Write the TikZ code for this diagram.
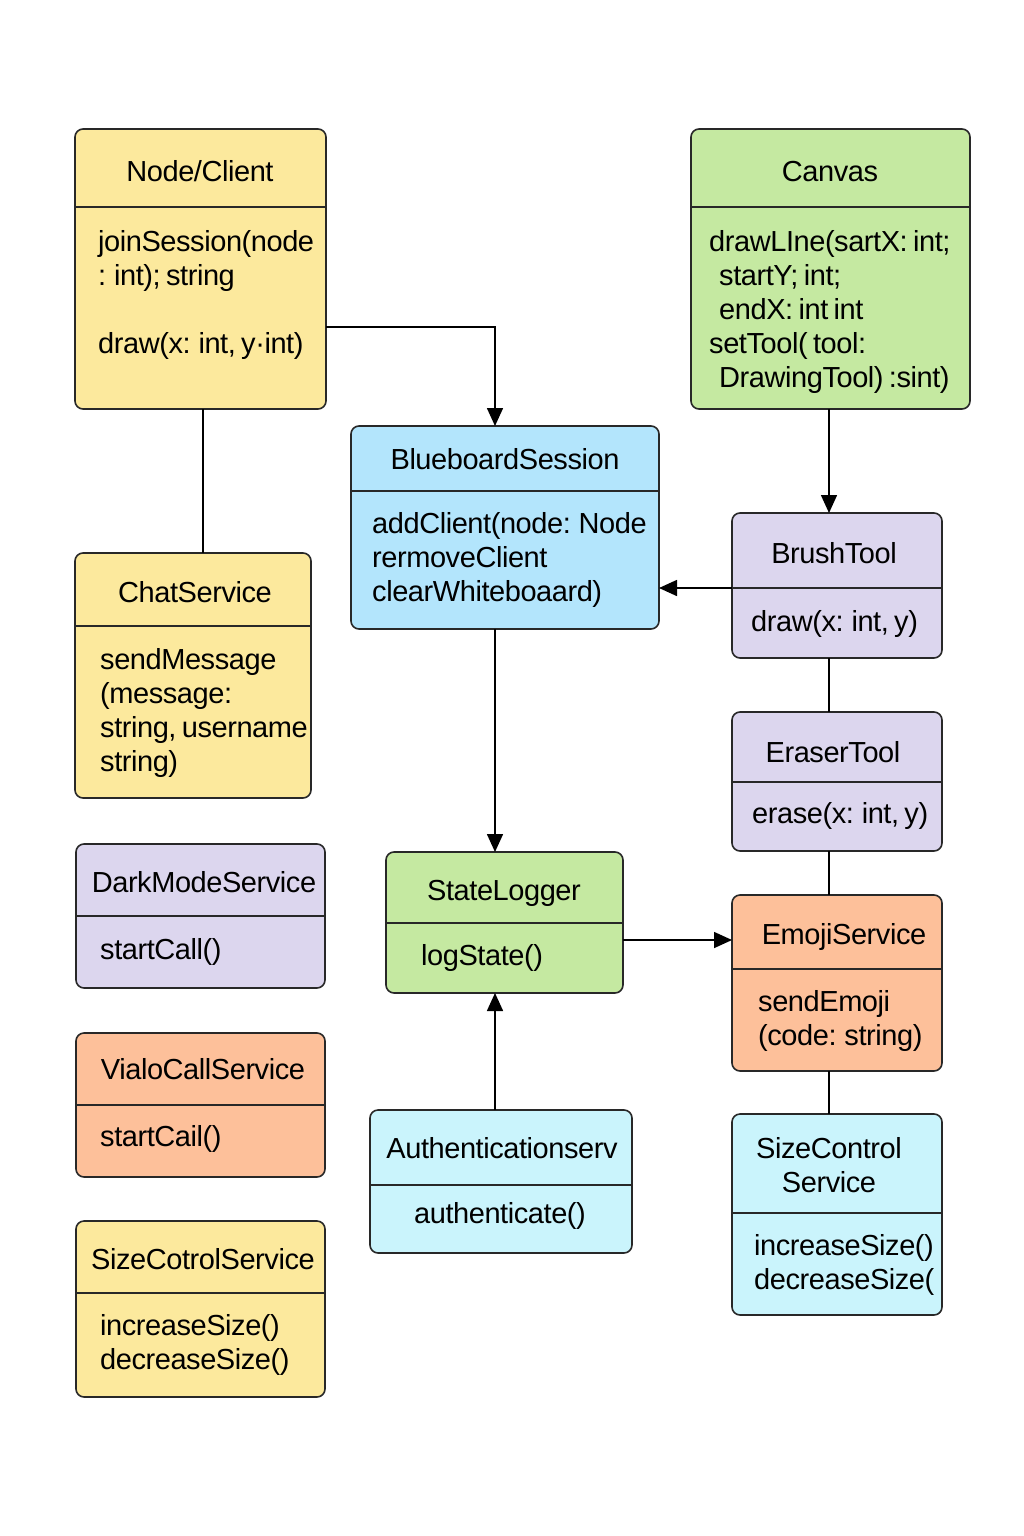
\documentclass[tikz,border=0pt]{standalone}
\usepackage{fontspec}
\setmainfont[WordSpace=0.7,LetterSpace=-1.5]{Liberation Sans}
\usetikzlibrary{arrows.meta,calc}
\definecolor{cyel}{RGB}{252,233,157}
\definecolor{cgrn}{RGB}{197,233,161}
\definecolor{cblu}{RGB}{179,229,252}
\definecolor{clav}{RGB}{220,214,238}
\definecolor{cora}{RGB}{253,192,154}
\definecolor{ccya}{RGB}{202,244,252}
\definecolor{cline}{RGB}{40,40,40}
\tikzset{
  ubox/.style={draw=cline, line width=1.6pt, rounded corners=8pt, inner sep=0pt, outer sep=0pt},
  divline/.style={draw=cline, line width=1.3pt},
  txt/.style={inner sep=0pt, font=\fontsize{29}{34}\selectfont, text=black},
  conn/.style={draw=black, line width=1.6pt},
  arr/.style={conn, -{Triangle[length=18pt,width=16pt]}},
}
\newcommand{\umlbox}[7]{%
  \node[ubox, fill=#2, minimum width={#5-#3}, minimum height={#6-#4}, anchor=north west] (#1) at (#3,#4) {};
  \draw[divline] (#3,#7) -- (#5,#7);
}
\newcommand{\tl}[4]{\node[txt, anchor=base west] (#1) at (#2,#3) {#4};}
\newcommand{\tc}[4]{\node[txt, anchor=base] (#1) at (#2,#3) {#4};}
\begin{document}
\begin{tikzpicture}[x=1pt,y=-1pt]
\fill[white] (0,0) rectangle (1024,1536);
\useasboundingbox (0,0) rectangle (1024,1536);

% Node/Client
\umlbox{nc}{cyel}{75}{129}{326}{409}{207}
\tc{nct}{200}{181}{Node/Client}
\tl{nc1}{98}{251}{joinSession(node}
\tl{nc2}{98}{285}{: int); string}
\tl{nc3}{98}{353}{draw(x: int, y·int)}

% Canvas
\umlbox{cv}{cgrn}{691}{129}{970}{409}{207}
\tc{cvt}{830}{181}{Canvas}
\tl{cv1}{709}{251}{drawLIne(sartX: int;}
\tl{cv2}{719}{285}{startY; int;}
\tl{cv3}{719}{319}{endX: int int}
\tl{cv4}{709}{353}{setTool( tool:}
\tl{cv5}{719}{387}{DrawingTool) :sint)}

% BlueboardSession
\umlbox{bs}{cblu}{351}{426}{659}{629}{491}
\tc{bst}{505}{469}{BlueboardSession}
\tl{bs1}{372}{533}{addClient(node: Node}
\tl{bs2}{372}{567}{rermoveClient}
\tl{bs3}{372}{601}{clearWhiteboaard)}

% BrushTool
\umlbox{bt}{clav}{732}{513}{942}{658}{588}
\tc{btt}{834}{563}{BrushTool}
\tl{bt1}{751}{631}{draw(x: int, y)}

% ChatService
\umlbox{cs}{cyel}{75}{553}{311}{798}{626}
\tc{cst}{195}{602}{ChatService}
\tl{cs1}{100}{669}{sendMessage}
\tl{cs2}{100}{703}{(message:}
\tl{cs3}{100}{737}{string, username}
\tl{cs4}{100}{771}{string)}

% EraserTool
\umlbox{et}{clav}{732}{712}{942}{851}{782}
\tc{ett}{833}{762}{EraserTool}
\tl{et1}{752}{823}{erase(x: int, y)}

% DarkModeService
\umlbox{dm}{clav}{76}{844}{325}{988}{916}
\tc{dmt}{204}{892}{DarkModeService}
\tl{dm1}{100}{959}{startCall()}

% StateLogger
\umlbox{sl}{cgrn}{386}{852}{623}{993}{923}
\tc{slt}{504}{900}{StateLogger}
\tl{sl1}{421}{965}{logState()}

% EmojiService
\umlbox{em}{cora}{732}{895}{942}{1071}{969}
\tc{emt}{844}{944}{EmojiService}
\tl{em1}{758}{1011}{sendEmoji}
\tl{em2}{758}{1045}{(code: string)}

% VialoCallService
\umlbox{vc}{cora}{76}{1033}{325}{1177}{1105}
\tc{vct}{203}{1079}{VialoCallService}
\tl{vc1}{100}{1146}{startCail()}

% SizeCotrolService
\umlbox{sz}{cyel}{76}{1221}{325}{1397}{1293}
\tc{szt}{203}{1269}{SizeCotrolService}
\tl{sz1}{100}{1335}{increaseSize()}
\tl{sz2}{100}{1369}{decreaseSize()}

% Authenticationserv
\umlbox{au}{ccya}{370}{1110}{632}{1253}{1185}
\tc{aut}{502}{1158}{Authenticationserv}
\tc{au1}{500}{1223}{authenticate()}

% SizeControl Service
\umlbox{sc}{ccya}{732}{1114}{942}{1315}{1213}
\tc{sct1}{829}{1158}{SizeControl}
\tc{sct2}{829}{1192}{Service}
\tl{sc1}{754}{1255}{increaseSize()}
\tl{sc2}{754}{1289}{decreaseSize(}

% connectors
\draw[arr] ([yshift=-58pt]nc.east) -| ([xshift=-10pt]bs.north);
\draw[conn] ([xshift=2.5pt]nc.south) -- ([xshift=2.5pt]nc.south |- cs.north);
\draw[arr] ([xshift=-1.5pt]cv.south) -- ([xshift=-1.5pt]cv.south |- bt.north);
\draw[arr] ([yshift=-2.5pt]bt.west) -- ([yshift=-2.5pt]bt.west -| bs.east);
\draw[arr] ([xshift=-10pt]bs.south) -- ([xshift=-10pt]bs.south |- sl.north);
\draw[conn] ([xshift=-8pt]bt.south) -- ([xshift=-8pt]bt.south |- et.north);
\draw[conn] ([xshift=-8pt]et.south) -- ([xshift=-8pt]et.south |- em.north);
\draw[arr] ([yshift=-17.5pt]sl.east) -- ([yshift=-17.5pt]sl.east -| em.west);
\draw[arr] ([xshift=-6pt]au.north) -- ([xshift=-6pt]au.north |- sl.south);
\draw[conn] ([xshift=-8pt]em.south) -- ([xshift=-8pt]em.south |- sc.north);
\end{tikzpicture}
\end{document}
